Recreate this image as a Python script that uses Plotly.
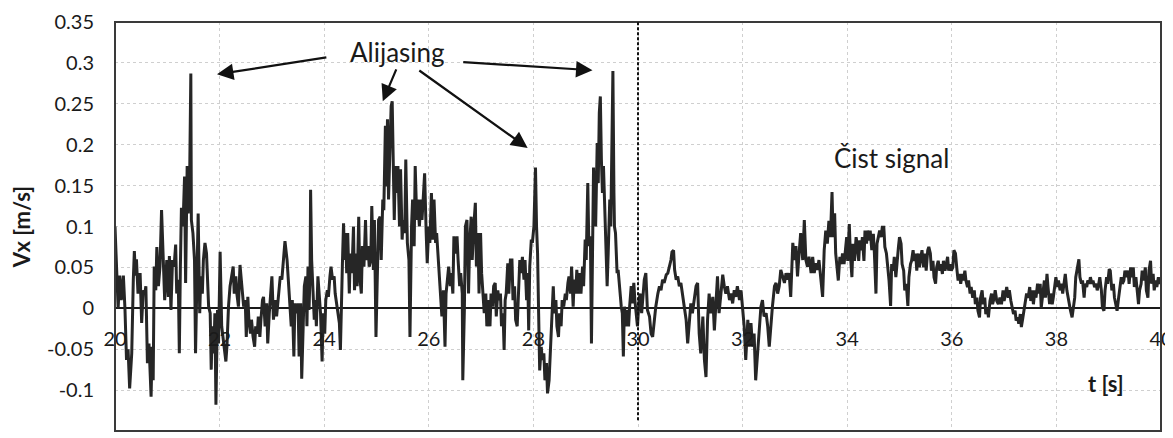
import plotly.graph_objects as go

# ---------------- data ----------------
t_a = [20.00,20.03,20.06,20.09,20.12,20.16,20.19,20.22,20.25,20.28,
       20.32,20.35,20.37,20.39,20.41,20.44,20.48,20.51,20.54,20.57,
       20.59,20.62,20.65,20.69,20.71,20.73,20.75,20.78,20.80,20.83,
       20.86,20.89,20.92,20.95,20.99,21.02,21.04,21.07,21.10,21.13,
       21.16,21.18,21.21,21.23,21.25,21.27,21.30,21.33,21.35,21.38,
       21.40,21.43,21.45,21.46,21.49,21.52,21.54,21.57,21.59,21.62,
       21.64,21.67,21.69,21.72,21.75,21.79,21.82,21.84,21.86,21.89,
       21.91,21.93,21.96,21.98,22.01,22.04,22.08,22.12,22.14,22.17,
       22.20,22.23,22.26,22.28,22.31,22.33,22.36,22.39,22.41,22.44,
       22.46,22.49,22.51,22.54,22.56,22.59,22.61,22.64,22.67,22.69,
       22.72,22.74,22.77,22.79,22.82,22.84,22.87,22.90,22.92,22.95,
       22.97,23.00,23.03,23.06,23.09,23.13,23.16,23.19,23.22,23.25,
       23.29,23.32,23.35]
vx_a = [0.100,0.043,0.000,0.040,0.010,0.040,0.000,-0.063,-0.050,-0.098,
        -0.055,0.035,0.070,0.040,0.060,0.018,0.043,-0.018,0.022,0.018,
        0.027,-0.067,-0.043,-0.108,-0.047,-0.088,0.051,0.022,0.075,0.027,
        0.051,0.120,0.059,0.010,0.059,0.014,0.064,-0.002,0.059,0.051,
        0.078,0.018,0.035,-0.055,0.051,0.123,0.100,0.161,0.031,0.174,
        0.116,0.174,0.287,0.108,0.092,0.059,-0.055,0.051,0.116,-0.006,
        0.039,0.018,0.059,0.080,0.067,0.002,-0.006,-0.075,-0.022,-0.055,
        -0.006,-0.118,-0.002,-0.043,0.069,-0.022,-0.047,-0.065,-0.047,0.002,
        0.027,0.039,0.051,0.018,0.039,0.018,0.002,0.053,0.039,0.022,
        0.002,0.010,-0.035,0.014,-0.014,-0.031,-0.014,-0.035,-0.047,-0.022,
        -0.031,-0.010,-0.035,-0.014,0.010,0.014,-0.022,0.006,-0.043,-0.006,
        0.018,0.039,-0.014,0.010,-0.010,0.018,0.039,0.035,0.059,0.082,
        0.059,0.027,-0.006]

t_b = [23.37,23.39,23.42,23.44,23.47,23.50,23.52,23.55,23.57,23.60,
       23.62,23.65,23.67,23.69,23.71,23.73,23.74,23.76,23.79,23.81,
       23.83,23.85,23.88,23.90,23.93,23.96,23.98,24.01,24.03,24.06,
       24.08,24.11,24.13,24.16,24.19,24.21,24.24,24.26,24.29,24.31,
       24.33,24.35,24.37,24.39,24.41,24.43,24.45,24.48,24.50,24.53,
       24.56,24.58,24.61,24.63,24.66,24.68,24.71,24.73,24.76,24.79,
       24.81,24.84,24.86,24.89,24.91,24.94,24.96,24.99,25.02,25.04,
       25.07,25.09,25.12,25.14,25.17,25.19,25.21,25.23,25.26,25.28,
       25.30,25.32,25.34,25.36,25.39,25.41,25.44,25.46,25.49,25.51,
       25.54,25.56,25.59,25.62,25.64,25.67,25.69,25.72,25.74,25.77,
       25.79,25.82,25.85,25.87,25.90,25.92,25.95,25.97,26.00,26.02,
       26.05,26.08,26.10,26.13,26.15,26.18,26.20,26.23,26.25,26.28,
       26.31,26.33,26.36,26.38,26.41,26.43,26.46,26.48,26.51,26.54,
       26.56,26.59,26.61,26.64,26.65,26.68,26.70,26.73,26.76]
vx_b = [-0.022,0.010,-0.059,0.006,-0.006,0.006,-0.059,0.006,-0.086,-0.018,
        0.027,0.039,-0.022,0.051,-0.002,0.043,0.145,0.059,0.018,-0.014,
        0.010,-0.022,0.039,0.018,-0.006,-0.065,-0.006,-0.031,0.010,0.022,
        0.014,0.039,0.051,0.035,0.039,0.018,0.002,-0.006,-0.018,-0.051,
        0.018,0.059,0.104,0.059,0.092,0.043,0.092,0.018,0.067,0.043,
        0.100,0.022,0.067,0.027,0.112,0.039,0.018,0.076,0.051,0.108,
        0.059,0.076,0.051,0.059,0.125,0.047,0.108,-0.035,0.051,0.108,
        0.112,0.059,0.133,0.120,0.223,0.149,0.231,0.133,0.202,0.247,
        0.253,0.182,0.108,0.174,0.141,0.174,0.100,0.170,0.084,0.108,
        0.092,0.182,0.080,0.059,-0.035,0.100,0.133,0.076,0.174,0.108,
        0.133,0.100,0.133,0.108,0.137,0.165,0.092,0.055,0.100,0.080,
        0.141,0.084,0.133,0.080,0.092,0.059,0.039,0.018,-0.010,0.022,
        -0.047,0.018,0.043,0.051,0.027,0.043,0.018,0.088,0.067,0.088,
        0.059,0.027,0.043,0.018,-0.088,-0.002,0.100,0.108,0.018]

t_c = [26.78,26.81,26.83,26.86,26.89,26.91,26.94,26.96,26.99,27.01,
       27.04,27.06,27.09,27.11,27.14,27.17,27.19,27.22,27.24,27.27,
       27.29,27.32,27.34,27.37,27.39,27.42,27.44,27.46,27.48,27.51,
       27.53,27.56,27.59,27.61,27.64,27.66,27.69,27.71,27.74,27.76,
       27.79,27.82,27.84,27.87,27.89,27.91,27.93,27.96,27.98,28.01,
       28.03,28.04,28.06,28.08,28.10,28.12,28.15,28.17,28.20,28.22,
       28.25,28.27,28.30,28.32,28.35,28.38,28.40,28.43,28.45,28.48,
       28.50,28.53,28.55,28.58,28.61,28.63,28.66,28.68,28.71,28.73,
       28.76,28.78,28.81,28.83,28.86,28.89,28.91,28.94,28.96,28.99,
       29.01,29.04,29.06,29.09,29.11,29.13,29.15,29.17,29.19,29.22,
       29.24,29.26,29.28,29.30,29.32,29.34,29.36,29.38,29.41,29.43,
       29.46,29.48,29.50,29.52,29.54,29.55,29.57,29.60,29.62,29.65,
       29.68,29.70,29.72,29.74,29.76,29.79,29.82,29.84,29.87,29.89,
       29.92,29.94,29.97,29.99,30.02,30.04,30.07,30.10,30.12,30.15]
vx_c = [0.076,0.112,0.059,0.100,0.129,0.051,0.092,0.018,0.092,0.043,
        0.010,-0.006,0.018,-0.022,0.010,-0.022,0.018,0.002,0.027,0.031,
        -0.010,0.022,0.010,0.018,-0.022,-0.006,-0.051,0.010,0.018,0.055,
        0.018,0.059,0.059,0.010,0.027,-0.014,-0.022,0.018,0.059,0.043,
        0.063,0.035,0.059,0.010,0.043,-0.027,0.051,0.084,0.080,0.100,
        0.133,0.172,0.100,0.067,-0.006,-0.076,-0.047,-0.063,-0.055,-0.088,
        -0.067,-0.104,-0.088,-0.063,-0.022,0.027,-0.006,0.010,-0.022,-0.035,
        -0.006,-0.022,0.010,0.002,0.018,0.010,0.031,0.039,0.018,0.051,
        0.002,0.035,0.018,0.047,0.018,0.043,0.018,0.051,0.027,0.084,
        0.059,0.153,0.076,0.088,-0.043,0.100,0.172,0.133,0.100,0.202,
        0.153,0.239,0.259,0.182,0.141,0.174,0.133,0.100,0.027,0.067,
        0.133,0.100,0.182,0.290,0.141,0.100,0.092,0.043,0.047,0.018,
        0.002,-0.006,-0.059,0.002,-0.022,-0.002,-0.022,0.002,0.027,0.006,
        0.031,0.010,-0.006,-0.022,0.010,0.018,-0.006,0.018,0.035,0.043]

t_d = [30.18,30.22,30.25,30.28,30.31,30.34,30.38,30.41,30.44,30.47,
       30.50,30.54,30.57,30.60,30.63,30.65,30.68,30.70,30.73,30.76,
       30.79,30.82,30.85,30.89,30.92,30.95,30.98,31.01,31.04,31.08,
       31.11,31.14,31.17,31.20,31.24,31.27,31.30,31.33,31.36,31.39,
       31.43,31.46,31.49,31.52,31.55,31.59,31.62,31.65,31.68,31.71,
       31.75,31.78,31.81,31.84,31.87,31.90,31.94,31.97,32.00,32.03,
       32.06,32.10,32.13,32.16,32.19,32.22,32.25,32.29,32.32,32.35,
       32.38,32.41,32.45,32.48,32.51,32.54,32.57,32.61,32.64,32.67,
       32.70,32.73,32.76,32.80,32.83,32.86,32.89,32.92,32.96,32.99,
       33.02,33.05,33.08,33.11,33.15,33.18,33.21,33.24,33.27,33.31,
       33.34,33.37,33.40,33.43,33.46,33.50,33.53,33.56]
vx_d = [-0.002,-0.010,-0.031,-0.035,-0.014,0.002,0.018,0.027,0.022,0.035,
        0.031,0.041,0.043,0.051,0.059,0.069,0.071,0.047,0.035,0.039,
        0.027,0.031,0.018,0.002,-0.014,-0.043,-0.022,0.006,-0.006,0.014,
        0.027,0.031,-0.031,-0.055,-0.010,-0.063,-0.084,-0.014,0.018,-0.006,
        0.014,-0.027,0.014,0.039,-0.006,0.018,0.041,0.027,0.018,0.027,
        0.010,0.018,0.006,0.022,0.014,0.027,0.010,0.022,0.002,-0.022,
        -0.063,-0.014,-0.047,-0.018,-0.047,-0.031,-0.088,-0.047,-0.014,0.002,
        0.010,-0.010,-0.006,-0.022,-0.047,-0.018,0.002,0.027,0.031,0.018,
        0.027,0.047,0.039,0.031,0.043,0.035,0.043,0.014,0.080,0.059,
        0.076,0.039,0.067,0.092,0.059,0.108,0.059,0.051,0.063,0.043,
        0.063,0.043,0.055,0.047,0.059,0.035,0.014,0.071]

t_e = [33.59,33.62,33.65,33.68,33.71,33.73,33.76,33.78,33.81,33.83,
       33.86,33.89,33.91,33.94,33.96,33.99,34.01,34.04,34.06,34.09,
       34.11,34.14,34.17,34.19,34.22,34.24,34.27,34.29,34.32,34.34,
       34.37,34.39,34.42,34.44,34.47,34.50,34.52,34.55,34.57,34.60,
       34.62,34.65,34.67,34.70,34.72,34.75,34.77,34.80,34.83,34.85,
       34.88,34.90,34.93,34.95,34.98,35.00,35.03,35.05,35.08,35.10,
       35.13,35.16,35.18,35.21,35.23,35.26,35.28,35.31,35.33,35.36,
       35.38,35.41,35.43,35.46,35.49,35.51,35.54,35.56,35.59,35.61,
       35.64,35.66,35.69,35.71,35.74,35.77,35.79,35.82,35.84,35.87,
       35.89,35.92,35.94,35.97,35.99,36.02,36.04,36.07,36.10,36.12,
       36.15,36.17,36.20,36.22,36.25,36.27,36.30,36.32,36.35,36.37,
       36.40,36.43,36.45,36.48,36.50,36.53,36.55,36.58,36.60,36.63,
       36.65,36.68,36.70,36.73,36.76,36.78,36.81,36.83,36.86,36.89,
       36.92]
vx_e = [0.095,0.079,0.107,0.087,0.142,0.087,0.116,0.067,0.050,0.034,
        0.063,0.054,0.067,0.054,0.067,0.087,0.058,0.103,0.067,0.038,
        0.079,0.058,0.087,0.079,0.058,0.083,0.071,0.087,0.058,0.095,
        0.079,0.095,0.083,0.095,0.071,0.091,0.067,0.018,0.079,0.087,
        0.095,0.087,0.099,0.099,0.075,0.067,0.054,0.034,0.003,0.054,
        0.046,0.063,0.038,0.058,0.075,0.087,0.079,0.054,0.046,0.022,
        0.030,0.003,0.038,0.054,0.058,0.071,0.058,0.067,0.046,0.067,
        0.050,0.063,0.071,0.050,0.067,0.046,0.071,0.075,0.067,0.046,
        0.058,0.038,0.030,0.050,0.058,0.046,0.054,0.042,0.058,0.046,
        0.054,0.063,0.046,0.054,0.046,0.050,0.071,0.067,0.046,0.034,
        0.042,0.030,0.042,0.034,0.046,0.034,0.026,0.034,0.018,0.026,
        0.013,0.022,0.005,0.013,-0.003,-0.011,0.013,0.022,0.005,0.013,
        -0.007,0.001,-0.011,0.009,0.018,0.005,0.013,0.022,0.009,0.005,
        0.013]

t_f = [36.95,36.98,37.00,37.03,37.05,37.08,37.10,37.13,37.16,37.18,
       37.21,37.23,37.26,37.28,37.31,37.33,37.36,37.38,37.41,37.43,
       37.46,37.49,37.51,37.54,37.56,37.59,37.61,37.64,37.66,37.69,
       37.71,37.74,37.77,37.79,37.82,37.84,37.87,37.89,37.92,37.94,
       37.97,37.99,38.02,38.04,38.07,38.10,38.12,38.15,38.17,38.20,
       38.22,38.25,38.27,38.30,38.32,38.35,38.37,38.40,38.43,38.45,
       38.48,38.50,38.53,38.55,38.58,38.60,38.63,38.65,38.68,38.70,
       38.73,38.76,38.78,38.81,38.83,38.86,38.88,38.91,38.93,38.96,
       38.98,39.01,39.03,39.06,39.09,39.11,39.14,39.16,39.19,39.21,
       39.24,39.26,39.29,39.31,39.34,39.37,39.39,39.42,39.44,39.47,
       39.49,39.52,39.54,39.57,39.59,39.62,39.64,39.67,39.70,39.72,
       39.75,39.77,39.80,39.82,39.85,39.87,39.90,39.92,39.95,39.97,
       40.00]
vx_f = [0.005,0.022,0.009,0.018,0.026,0.013,0.022,0.009,0.001,-0.007,
        -0.003,-0.015,-0.011,-0.019,-0.007,-0.023,-0.011,-0.003,0.005,0.018,
        0.013,0.026,0.009,0.022,0.005,0.022,0.013,0.030,0.018,0.030,
        0.001,0.022,0.034,0.013,0.042,0.026,0.005,0.018,0.005,0.013,
        0.030,0.038,0.026,0.034,0.022,0.030,0.018,0.038,0.042,0.022,
        0.013,0.005,-0.003,-0.011,-0.003,0.013,0.038,0.050,0.060,0.038,
        0.030,0.034,0.013,0.030,0.026,0.034,0.030,0.038,0.030,0.034,
        0.026,0.030,0.022,0.030,0.038,0.022,0.001,-0.003,0.022,0.038,
        0.030,0.048,0.046,0.022,0.030,0.013,0.005,-0.003,0.013,0.026,
        0.038,0.030,0.034,0.046,0.038,0.046,0.030,0.050,0.038,0.050,
        0.026,0.038,0.022,0.005,0.022,0.030,0.046,0.034,0.050,0.022,
        0.013,0.046,0.058,0.030,0.042,0.022,0.034,0.026,0.038,0.030,
        0.034]

x_tick_vals = [20, 22, 24, 26, 28, 30, 32, 34, 36, 38, 40]
x_tick_text = ["20", "22", "24", "26", "28", "30", "32", "34", "36", "38", "40"]
y_tick_vals = [-0.15, -0.1, -0.05, 0, 0.05, 0.1, 0.15, 0.2, 0.25, 0.3, 0.35]
y_tick_text = ["-0.15", "-0.1", "-0.05", "0", "0.05", "0.1", "0.15", "0.2", "0.25", "0.3", "0.35"]

t_all = t_a + t_b + t_c + t_d + t_e + t_f
vx_all = vx_a + vx_b + vx_c + vx_d + vx_e + vx_f
assert len(t_all) == len(vx_all)

# ---------------- figure ----------------
FONT = "Lato, 'Open Sans', sans-serif"
INK = "#1a1a1a"

fig = go.Figure()
fig.add_trace(go.Scatter(x=t_all, y=vx_all, mode="lines",
                         line=dict(color="#262626", width=3),
                         hoverinfo="skip", showlegend=False))

# the page body adds an 8 px offset; the figure is sized to fill the rest
fig.update_layout(
    width=1165, height=430,
    margin=dict(l=107, r=12, t=14, b=7),
    paper_bgcolor="white", plot_bgcolor="white",
    font=dict(family=FONT, size=20, color=INK),
    showlegend=False,
    xaxis=dict(range=[20, 40], tickvals=x_tick_vals, ticktext=x_tick_text,
               anchor="free", position=0.3, showline=False, zeroline=False,
               showgrid=True, gridcolor="#cfcfcf", griddash="dot", gridwidth=1,
               ticks="", ticklabelstandoff=17, automargin=False,
               tickfont=dict(family=FONT, size=20, color=INK)),
    yaxis=dict(range=[-0.15, 0.35], tickvals=y_tick_vals, ticktext=y_tick_text,
               showline=False, zeroline=True, zerolinecolor="#1a1a1a", zerolinewidth=1.6,
               showgrid=True, gridcolor="#cfcfcf", griddash="dot", gridwidth=1,
               ticks="", ticklabelstandoff=20, automargin=False,
               tickfont=dict(family=FONT, size=20, color=INK),
               title=dict(text="<b>Vx [m/s]</b>", standoff=10,
                          font=dict(family=FONT, size=22, color=INK))),
)

# plot-area frame
fig.add_shape(type="rect", xref="paper", yref="paper", x0=0, x1=1, y0=0, y1=1,
              line=dict(color="#3a3a3a", width=2), layer="above")
# dashed separator at t = 30 s
fig.add_shape(type="line", xref="x", yref="y", x0=30, x1=30, y0=-0.137, y1=0.35,
              line=dict(color="#111111", width=2, dash="3px,2px"), layer="above")

# text labels
fig.add_annotation(x=25.40, y=0.313, xref="x", yref="y", text="Alijasing",
                   showarrow=False, font=dict(family=FONT, size=26, color=INK))
fig.add_annotation(x=34.84, y=0.184, xref="x", yref="y", text="Čist signal",
                   showarrow=False, font=dict(family=FONT, size=26, color=INK))
fig.add_annotation(x=38.94, y=-0.0915, xref="x", yref="y", text="<b>t [s]</b>",
                   showarrow=False, font=dict(family=FONT, size=22, color=INK))

# arrows from the label to the aliasing peaks
arrows = [((24.07, 0.307), (21.95, 0.286)),
          ((25.39, 0.294), (25.12, 0.253)),
          ((25.79, 0.292), (27.89, 0.196)),
          ((26.63, 0.301), (29.13, 0.291))]
for (tx, ty), (hx, hy) in arrows:
    fig.add_annotation(x=hx, y=hy, ax=tx, ay=ty, xref="x", yref="y",
                       axref="x", ayref="y", text="", showarrow=True,
                       arrowhead=2, arrowsize=1.5, arrowwidth=2.2,
                       arrowcolor="#111111", standoff=0, startstandoff=0)

fig.write_html("out.html")
